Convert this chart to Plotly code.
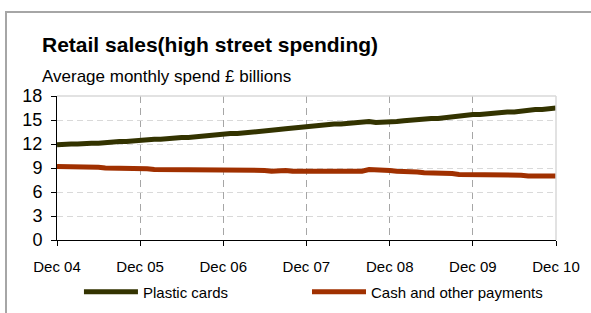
import pandas as pd
import plotly.graph_objects as go

# Monthly data Dec 2004 .. Dec 2010 (73 months)
months = pd.date_range("2004-12-01", "2010-12-01", freq="MS")

plastic_cards = [
    11.9,
    12.0, 12.0, 12.0, 12.1, 12.1, 12.1, 12.2, 12.2, 12.3, 12.3, 12.4, 12.4,
    12.5, 12.6, 12.6, 12.7, 12.7, 12.8, 12.8, 12.9, 13.0, 13.0, 13.1, 13.2,
    13.3, 13.3, 13.4, 13.5, 13.5, 13.6, 13.7, 13.8, 13.9, 14.0, 14.1, 14.2,
    14.3, 14.3, 14.4, 14.5, 14.5, 14.6, 14.7, 14.8, 14.8, 14.7, 14.7, 14.8,
    14.8, 14.9, 15.0, 15.0, 15.1, 15.2, 15.2, 15.3, 15.4, 15.6, 15.6, 15.7,
    15.7, 15.8, 15.8, 15.9, 16.0, 16.0, 16.1, 16.3, 16.3, 16.3, 16.4, 16.5,
]
cash_other = [
    9.2,
    9.2, 9.2, 9.2, 9.1, 9.1, 9.1, 9.0, 9.0, 9.0, 8.9, 8.9, 8.9,
    8.9, 8.8, 8.8, 8.8, 8.7, 8.8, 8.7, 8.7, 8.8, 8.7, 8.7, 8.7,
    8.7, 8.7, 8.8, 8.7, 8.7, 8.7, 8.6, 8.7, 8.7, 8.6, 8.6, 8.6,
    8.6, 8.5, 8.6, 8.5, 8.6, 8.5, 8.6, 8.6, 8.8, 8.8, 8.8, 8.7,
    8.6, 8.6, 8.5, 8.5, 8.4, 8.4, 8.4, 8.3, 8.3, 8.2, 8.2, 8.2,
    8.2, 8.2, 8.2, 8.1, 8.1, 8.1, 8.1, 8.0, 8.0, 8.1, 8.0, 8.0,
]

tick_vals = ["2004-12-01", "2005-12-01", "2006-12-01", "2007-12-01",
             "2008-12-01", "2009-12-01", "2010-12-01"]
tick_text = ["Dec 04", "Dec 05", "Dec 06", "Dec 07", "Dec 08", "Dec 09", "Dec 10"]
y_ticks = [0, 3, 6, 9, 12, 15, 18]

title_text = "Retail sales(high street spending)"
subtitle_text = "Average monthly spend £ billions"

FONT = "Liberation Sans, Arial"

fig = go.Figure()
fig.add_trace(go.Scatter(x=months, y=plastic_cards, mode="lines",
                         name="Plastic cards", legend="legend",
                         line=dict(color="#333300", width=5)))
fig.add_trace(go.Scatter(x=months, y=cash_other, mode="lines",
                         name="Cash and other payments", legend="legend2",
                         line=dict(color="#a03000", width=5)))

legend_common = dict(orientation="h", xanchor="left", y=-0.361,
                     yanchor="middle", itemwidth=54,
                     font=dict(family=FONT, size=15),
                     bgcolor="rgba(0,0,0,0)")

fig.update_layout(
    width=591, height=313,
    margin=dict(l=57, r=35, t=96, b=73, autoexpand=False),
    paper_bgcolor="white", plot_bgcolor="white",
    font=dict(family=FONT, size=15, color="black"),
    showlegend=True,
    legend=dict(x=0.044, **legend_common),
    legend2=dict(x=0.501, **legend_common),
    xaxis=dict(type="date", range=["2004-12-01", "2010-12-01"],
               tickvals=tick_vals, ticktext=tick_text,
               ticks="outside", ticklen=5, tickcolor="black",
               showline=True, linecolor="black", linewidth=1,
               showgrid=True, gridcolor="#a6a6a6", griddash="7px,5px",
               gridwidth=1, zeroline=False, ticklabelstandoff=8,
               tickfont=dict(family=FONT, size=15)),
    yaxis=dict(range=[0, 18], tickvals=y_ticks,
               ticks="outside", ticklen=5, tickcolor="black",
               showline=True, linecolor="black", linewidth=1,
               showgrid=True, gridcolor="#d9d9d9", griddash="6px,4px",
               gridwidth=1, zeroline=False, ticklabelstandoff=5,
               tickfont=dict(family=FONT, size=18)),
    shapes=[
        dict(type="rect", xref="paper", yref="paper",
             x0=-0.1022, x1=1.3, y0=-0.7, y1=1.583,
             line=dict(color="#a6a6a6", width=2), layer="below"),
        dict(type="line", xref="paper", yref="paper",
             x0=0, x1=1, y0=1, y1=1,
             line=dict(color="#d9d9d9", width=1.5), layer="above"),
        dict(type="line", xref="paper", yref="paper",
             x0=1, x1=1, y0=0, y1=1,
             line=dict(color="#d9d9d9", width=1.5), layer="above"),
    ],
    annotations=[
        dict(text="<b>" + title_text + "</b>", xref="paper", yref="paper",
             x=-0.034, y=1.36, xanchor="left", yanchor="middle",
             showarrow=False, font=dict(family=FONT, size=21)),
        dict(text=subtitle_text, xref="paper", yref="paper",
             x=-0.034, y=1.132, xanchor="left", yanchor="middle",
             showarrow=False, font=dict(family=FONT, size=17)),
    ],
)

fig.write_html("out.html", config={"displayModeBar": False},
               post_script="document.body.style.margin='0px';")
